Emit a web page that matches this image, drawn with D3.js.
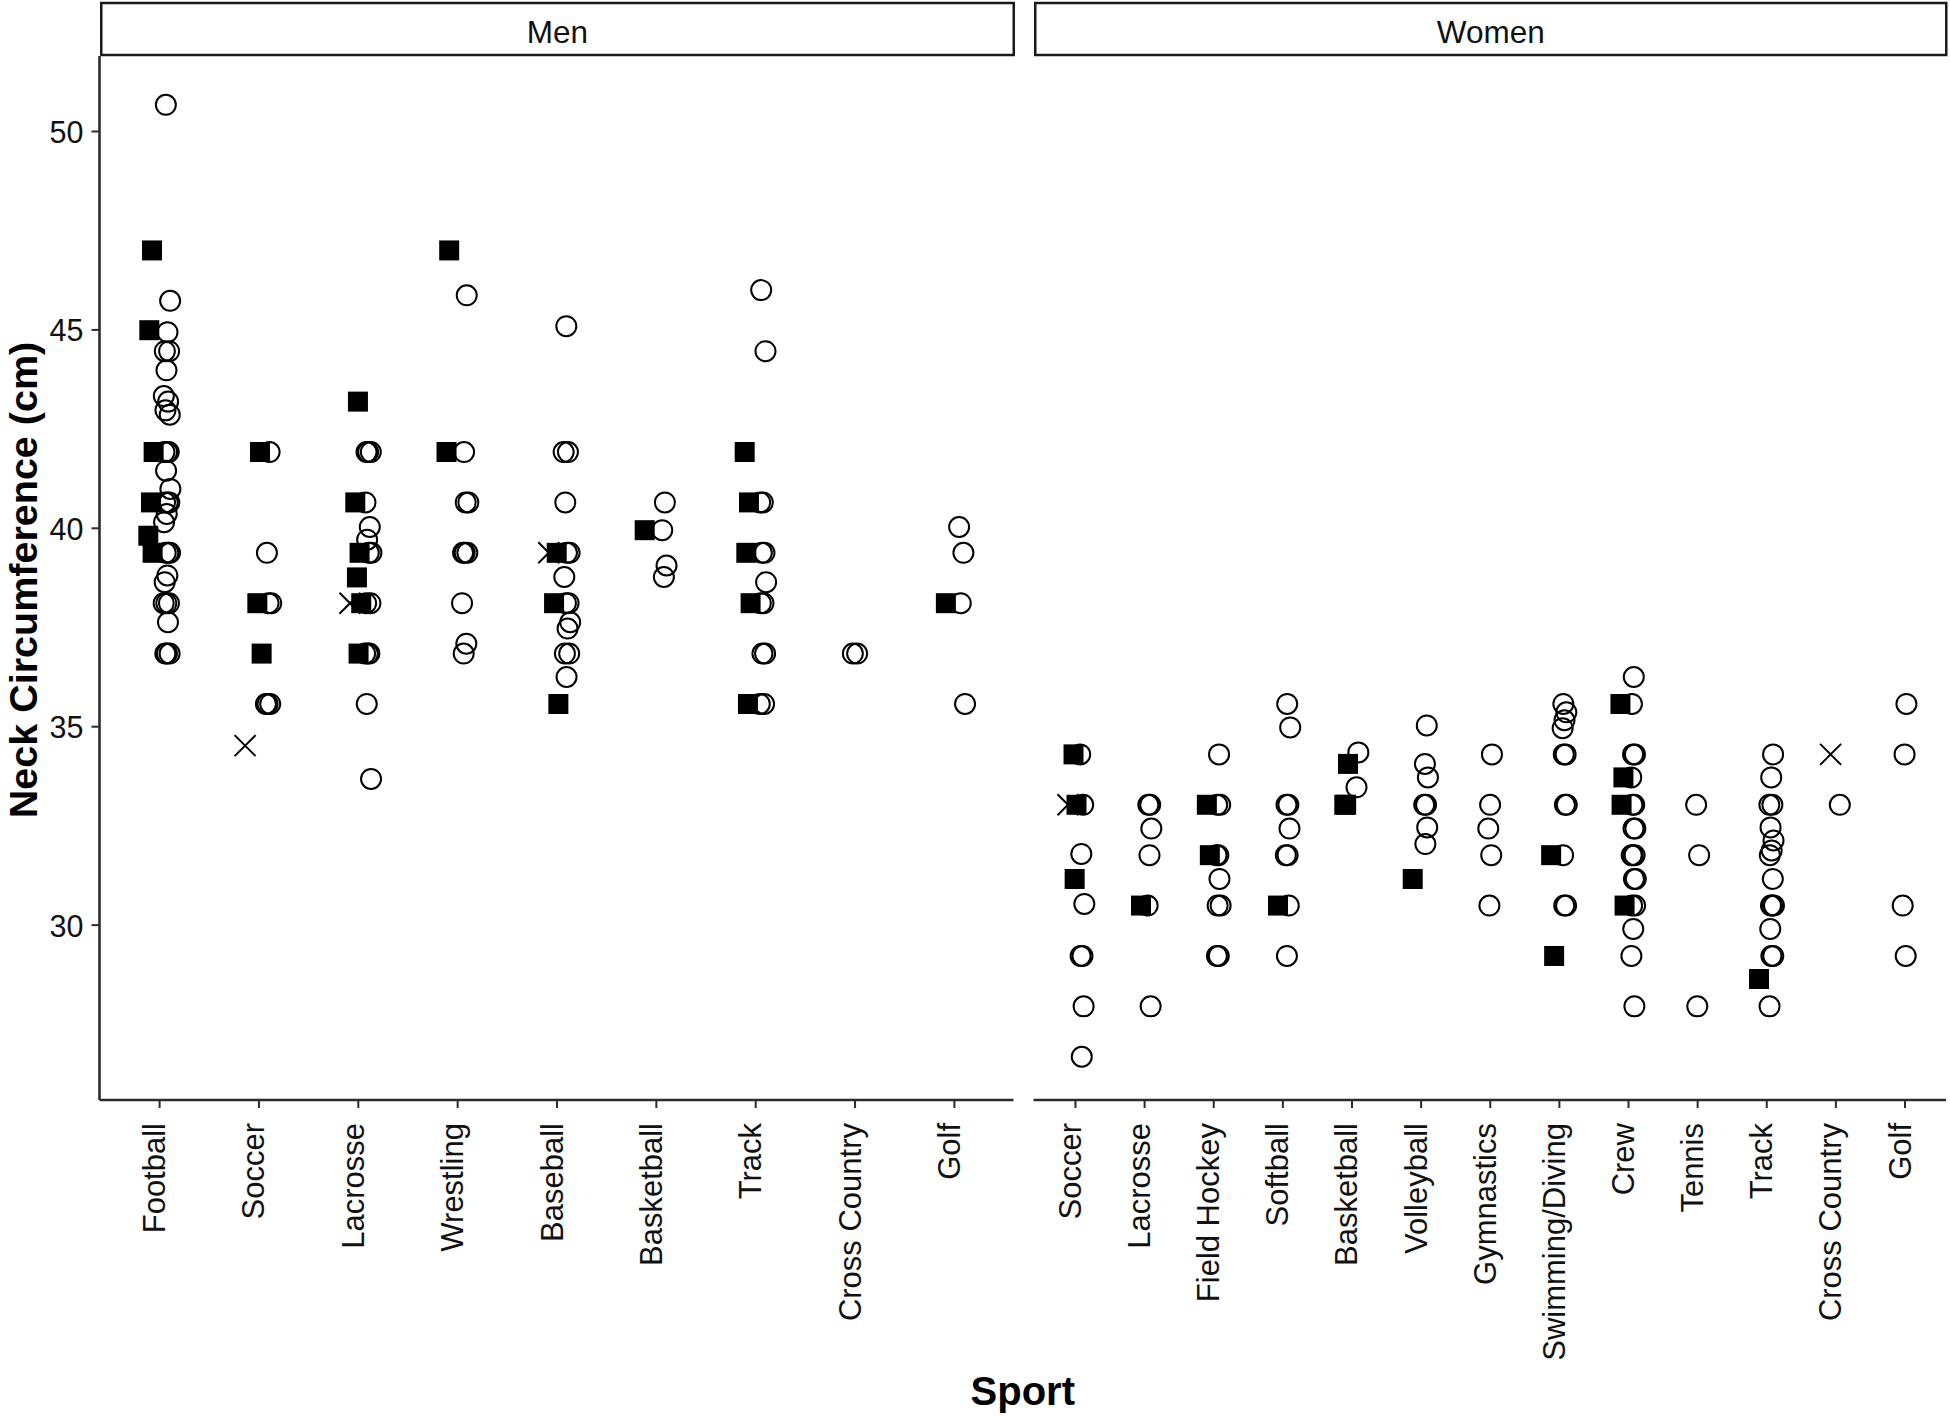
<!DOCTYPE html>
<html><head><meta charset="utf-8">
<script src="https://cdn.jsdelivr.net/npm/d3@7"></script>
<style>
body{margin:0;background:#fff}
svg{display:block}
text{font-family:"Liberation Sans",Arial,Helvetica,sans-serif}
</style>
</head><body>
<svg id="chart" width="1950" height="1416"></svg>
<script>
// ---------------- data ----------------
const panelNames = ["Men", "Women"];
const yTicks = [30, 35, 40, 45, 50];

const menSports = ["Football", "Soccer", "Lacrosse", "Wrestling", "Baseball", "Basketball", "Track", "Cross Country", "Golf"];
const menSquares = [
  [46.99, 44.98, 41.91, 40.64, 39.8, 39.37],
  [41.91, 38.1, 36.83],
  [43.18, 40.64, 39.37, 38.75, 38.1, 36.83],
  [46.99, 41.91],
  [39.37, 38.1, 35.56],
  [39.94],
  [41.91, 40.64, 39.37, 38.1, 35.56],
  [],
  [38.1]
];
const menCircles = [
  [50.66, 45.72, 44.93, 44.45, 44.45, 43.97, 43.32, 43.18, 42.96, 42.85, 41.91, 41.91, 41.91, 41.44, 40.98, 40.64, 40.64, 40.64, 40.35, 40.14, 39.37, 39.37, 39.37, 38.8, 38.63, 38.1, 38.1, 38.1, 37.62, 36.83, 36.83, 36.83],
  [41.91, 39.37, 38.1, 38.1, 35.56, 35.56, 35.56],
  [41.91, 41.91, 41.91, 40.64, 40.02, 39.7, 39.37, 39.37, 38.1, 38.1, 36.83, 36.83, 36.83, 35.56, 33.67],
  [45.86, 41.91, 40.64, 40.64, 39.37, 39.37, 39.37, 38.1, 37.08, 36.83],
  [45.08, 41.91, 41.91, 40.64, 39.37, 39.37, 38.76, 38.1, 38.1, 37.62, 37.46, 36.83, 36.83, 36.24],
  [40.64, 39.94, 39.05, 38.76],
  [45.99, 44.45, 40.64, 40.64, 39.37, 39.37, 38.63, 38.1, 38.1, 36.83, 36.83, 35.56, 35.56],
  [36.83, 36.83],
  [40.02, 39.37, 38.1, 35.56]
];
const menCrosses = [
  [], [34.51], [38.1], [], [39.37], [], [], [], []
];

const womenSports = ["Soccer", "Lacrosse", "Field Hockey", "Softball", "Basketball", "Volleyball", "Gymnastics", "Swimming/Diving", "Crew", "Tennis", "Track", "Cross Country", "Golf"];
const womenSquares = [
  [34.29, 33.02, 31.15],
  [30.48],
  [33.02, 31.75],
  [30.48],
  [34.05, 33.02, 33.02],
  [31.15],
  [],
  [31.75, 29.21],
  [35.56, 33.71, 33.02, 30.48],
  [],
  [28.63],
  [],
  []
];
const womenCircles = [
  [34.29, 33.02, 31.78, 30.52, 29.21, 29.21, 27.94, 26.67],
  [33.02, 33.02, 32.42, 31.75, 30.48, 27.94],
  [34.29, 33.02, 33.02, 31.75, 31.75, 31.15, 30.48, 30.48, 29.21, 29.21],
  [35.56, 34.97, 33.02, 33.02, 32.42, 31.75, 31.75, 30.48, 29.21],
  [34.34, 33.46],
  [35.02, 34.05, 33.71, 33.02, 33.02, 32.45, 32.03],
  [34.29, 33.02, 32.42, 31.75, 30.48],
  [35.56, 35.35, 35.15, 34.95, 34.29, 34.29, 33.02, 33.02, 31.75, 30.48, 30.48],
  [36.24, 35.56, 34.29, 34.29, 33.71, 33.02, 33.02, 32.42, 32.42, 31.75, 31.75, 31.75, 31.15, 31.15, 30.48, 30.48, 29.89, 29.21, 27.94],
  [33.02, 31.75, 27.94],
  [34.29, 33.71, 33.02, 33.02, 32.45, 32.12, 31.87, 31.75, 31.15, 30.48, 30.48, 30.48, 29.89, 29.21, 29.21, 27.94],
  [33.02],
  [35.56, 34.29, 30.48, 29.21]
];
const womenCrosses = [
  [33.02], [], [], [], [], [], [], [], [], [], [], [34.29], []
];

// ---------------- layout ----------------
const svg = d3.select("#chart");
const panelTop = 56, panelBottom = 1100;
const panels = [
  {name: panelNames[0], x0: 99.5, x1: 1013.5, sports: menSports, groups: [menCrosses, menSquares, menCircles]},
  {name: panelNames[1], x0: 1033.5, x1: 1946, sports: womenSports, groups: [womenCrosses, womenSquares, womenCircles]}
];
const y = d3.scaleLinear().domain([25.58, 51.89]).range([panelBottom, panelTop]);
const axisColor = "#2b2b2b";
const textColor = "#111";
const shapeKinds = ["cross", "square", "circle"];
const dodgeWidth = 0.32;
const jitterWidth = 0.07;
let counter = 0;

const squarePath = d3.symbol(d3.symbolSquare, 400)();
const crossPath = d3.symbol(d3.symbolX, 290)();

panels.forEach((p, pi) => {
  const x = d3.scalePoint().domain(p.sports).range([p.x0, p.x1]).padding(0.6);
  const step = x.step();
  const g = svg.append("g");

  // strip
  g.append("rect")
    .attr("x", p.x0 + 1.75).attr("y", 3)
    .attr("width", p.x1 - p.x0 - 1.5).attr("height", 52)
    .attr("fill", "#fff").attr("stroke", "#1a1a1a").attr("stroke-width", 2.5);
  g.append("text")
    .attr("x", (p.x0 + p.x1) / 2 + 1).attr("y", 42.5)
    .attr("text-anchor", "middle").attr("font-size", 31.5).attr("fill", textColor)
    .text(p.name);

  // x axis
  const xa = g.append("g").attr("transform", `translate(0,${panelBottom})`)
    .call(d3.axisBottom(x).tickSize(8).tickPadding(0).tickSizeOuter(0));
  xa.select(".domain").attr("stroke", axisColor).attr("stroke-width", 2.6)
    .attr("d", `M${p.x0},0H${p.x1}`);
  xa.selectAll(".tick line").attr("stroke", axisColor).attr("stroke-width", 2);
  xa.selectAll(".tick text")
    .attr("font-size", 31).attr("fill", textColor)
    .attr("text-anchor", "end")
    .attr("transform", "translate(0,23) rotate(-90)")
    .attr("x", 0).attr("y", 0).attr("dy", "5.5px").attr("dx", 0);

  // y axis only on first panel
  if (pi === 0) {
    const ya = g.append("g").attr("transform", `translate(${p.x0},0)`)
      .call(d3.axisLeft(y).tickValues(yTicks).tickSize(8).tickPadding(8).tickSizeOuter(0));
    ya.select(".domain").attr("stroke", axisColor).attr("stroke-width", 2.6)
      .attr("d", `M0,${panelTop}V${panelBottom}`);
    ya.selectAll(".tick line").attr("stroke", axisColor).attr("stroke-width", 2);
    ya.selectAll(".tick text").attr("font-size", 30.5).attr("fill", textColor).attr("dy", "0.38em");
  }

  // points
  const pts = g.append("g");
  p.sports.forEach((sport, si) => {
    const present = [0, 1, 2].filter(k => p.groups[k][si].length > 0);
    const n = present.length;
    present.forEach((k, idx) => {
      const off = (idx - (n - 1) / 2) * (dodgeWidth / n) * step;
      p.groups[k][si].forEach(v => {
        counter++;
        const j = ((counter * 0.6180339887) % 1) - 0.5;
        const cx = x(sport) + off + j * jitterWidth * step;
        const cy = y(v);
        const kind = shapeKinds[k];
        if (kind === "circle") {
          pts.append("circle").attr("cx", cx).attr("cy", cy).attr("r", 10)
            .attr("fill", "none").attr("stroke", "#000").attr("stroke-width", 2);
        } else if (kind === "square") {
          pts.append("path").attr("d", squarePath)
            .attr("transform", `translate(${cx},${cy})`).attr("fill", "#000");
        } else {
          pts.append("path").attr("d", crossPath)
            .attr("transform", `translate(${cx},${cy})`)
            .attr("fill", "none").attr("stroke", "#000").attr("stroke-width", 2);
        }
      });
    });
  });
});

// axis titles
svg.append("text")
  .attr("transform", `translate(37,${(panelTop + panelBottom) / 2 + 2}) rotate(-90)`)
  .attr("text-anchor", "middle").attr("font-size", 39.5).attr("font-weight", "bold").attr("fill", "#000")
  .text("Neck Circumference (cm)");
svg.append("text")
  .attr("x", (panels[0].x0 + panels[1].x1) / 2).attr("y", 1405)
  .attr("text-anchor", "middle").attr("font-size", 40).attr("font-weight", "bold").attr("fill", "#000")
  .text("Sport");
</script>
</body></html>
